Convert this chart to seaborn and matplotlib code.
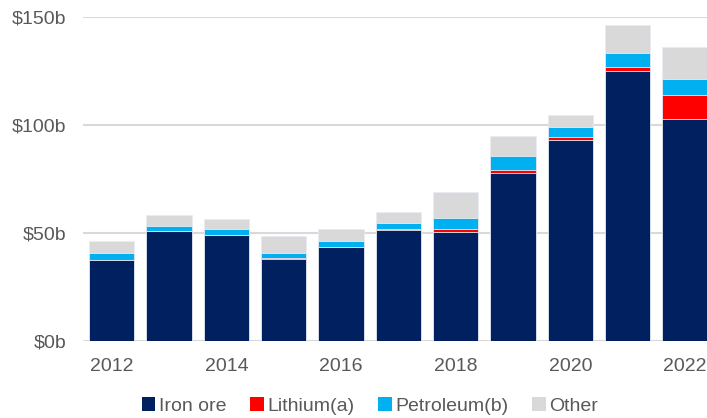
import matplotlib
matplotlib.use("Agg")
import matplotlib.pyplot as plt
import seaborn as sns
import numpy as np
import pandas as pd
from matplotlib.patches import Patch
from matplotlib import font_manager

years = [2012, 2013, 2014, 2015, 2016, 2017, 2018, 2019, 2020, 2021, 2022]
iron_ore = [37.5, 50.8, 49.3, 38.0, 43.7, 51.3, 50.6, 77.9, 93.2, 124.9, 102.6]
lithium = [0.0, 0.0, 0.0, 0.6, 0.1, 0.7, 1.4, 1.4, 1.1, 2.0, 11.1]
petroleum = [3.3, 2.5, 2.6, 2.2, 2.7, 2.8, 5.0, 6.5, 4.7, 6.5, 7.7]
other = [5.7, 5.1, 4.5, 7.9, 5.5, 5.0, 11.9, 9.1, 5.6, 12.6, 14.7]
series_names = ["Iron ore", "Lithium(a)", "Petroleum(b)", "Other"]
colors = ["#002060", "#FF0000", "#00B0F0", "#D9D9D9"]
ytick_vals = [0, 50, 100, 150]
ytick_labels = ["$0b", "$50b", "$100b", "$150b"]
xtick_years = [2012, 2014, 2016, 2018, 2020, 2022]

sns.set_theme(style="white")
avail = {f.name for f in font_manager.fontManager.ttflist}
fam = "Liberation Sans" if "Liberation Sans" in avail else "DejaVu Sans"
plt.rcParams["font.family"] = [fam, "DejaVu Sans"]

df = pd.DataFrame({"year": [str(y) for y in years],
                   "Iron ore": iron_ore, "Lithium(a)": lithium,
                   "Petroleum(b)": petroleum, "Other": other})
cum = df[series_names].cumsum(axis=1)

fig = plt.figure(figsize=(7.07, 4.18), dpi=100)
ax = fig.add_axes([83 / 707, (418 - 341.3) / 418, (707 - 83) / 707, (341.3 - 16.7) / 418])

for name, col in reversed(list(zip(series_names, colors))):
    sns.barplot(x=df["year"], y=cum[name], color=col, width=0.79, ax=ax,
                edgecolor="#e8ecf4", linewidth=0.6, saturation=1, zorder=3)

ax.set_ylim(0, 150)
ax.set_xlim(-0.5, 10.385)
ax.set_yticks(ytick_vals)
ax.set_yticklabels(ytick_labels)
pos = [years.index(y) for y in xtick_years]
ax.set_xticks(pos)
ax.set_xticklabels([str(y) for y in xtick_years])
ax.tick_params(axis="both", length=0, labelsize=14, colors="#595959")
ax.tick_params(axis="x", pad=12)
ax.tick_params(axis="y", pad=12)
ax.set_xlabel("")
ax.set_ylabel("")
ax.grid(axis="y", color="#D9D9D9", linewidth=1.5, zorder=0)
ax.set_axisbelow(True)
for s in ax.spines.values():
    s.set_visible(False)

handles = [Patch(facecolor=c, edgecolor="none") for c in colors]
fig.legend(handles, series_names, loc="center", bbox_to_anchor=(370 / 707, 1 - 406 / 418),
           ncol=4, frameon=False, fontsize=14, handlelength=0.7, handleheight=0.7,
           handletextpad=0.2, columnspacing=1.2, labelcolor="#595959")

fig.savefig("out.png", dpi=100)
